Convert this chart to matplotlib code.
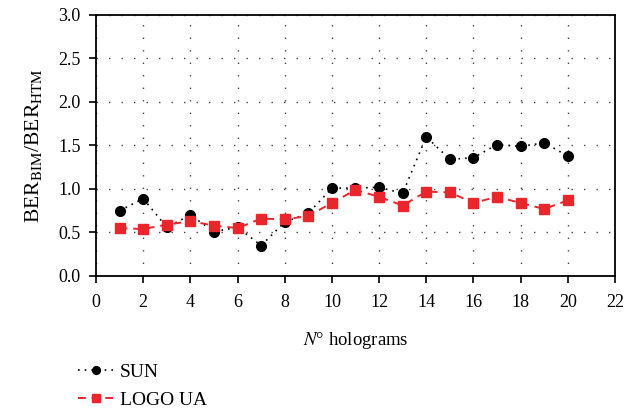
import matplotlib
matplotlib.use("Agg")
import matplotlib.pyplot as plt

plt.rcParams['font.family'] = ['Liberation Serif', 'DejaVu Serif']
plt.rcParams['mathtext.fontset'] = 'stix'

holograms = [1, 2, 3, 4, 5, 6, 7, 8, 9, 10, 11, 12, 13, 14, 15, 16, 17, 18, 19, 20]
sun = [0.75, 0.89, 0.56, 0.70, 0.51, 0.56, 0.35, 0.62, 0.72, 1.01,
       1.01, 1.02, 0.95, 1.60, 1.34, 1.36, 1.51, 1.49, 1.53, 1.38]
logo_ua = [0.55, 0.54, 0.59, 0.63, 0.58, 0.55, 0.66, 0.65, 0.69, 0.84,
           0.99, 0.91, 0.81, 0.97, 0.96, 0.84, 0.91, 0.84, 0.77, 0.87]
xticks = list(range(0, 23, 2))
yticks = [0.0, 0.5, 1.0, 1.5, 2.0, 2.5, 3.0]

fig = plt.figure(figsize=(6.41, 4.12), dpi=100)
ax = fig.add_axes([0.1498, 0.3301, 0.8096, 0.6335])

l1, = ax.plot(holograms, sun, color='black', linestyle=(0, (1, 3)), lw=1.2,
              marker='o', markersize=7, label='SUN', zorder=3)
l2, = ax.plot(holograms, logo_ua, color='#e8262b', linestyle=(0, (4, 3)), lw=1.4,
              marker='s', markersize=7, label='LOGO UA', zorder=3)

ax.set_xlim(0, 22)
ax.set_ylim(0, 3.0)
ax.set_xticks(xticks)
ax.set_yticks(yticks)
ax.set_yticklabels(['%.1f' % v for v in yticks])
ax.grid(True, color='#444444', linestyle=(0, (1, 8)), lw=1.0)
ax.tick_params(labelsize=13, direction='out', length=5, width=1.2, colors='black')
ax.tick_params(axis='x', pad=8)
ax.tick_params(axis='y', pad=6)
for s in ax.spines.values():
    s.set_linewidth(1.3)

ax.set_xlabel('$N$° holograms', fontsize=13.5, labelpad=14)
ax.set_ylabel('BER$_{\\mathrm{BIM}}$/BER$_{\\mathrm{HTM}}$', fontsize=15.5, labelpad=10)

fig.legend(handles=[l1, l2], loc='upper left', bbox_to_anchor=(0.122, 0.118),
           frameon=False, fontsize=14, handlelength=1.8, labelspacing=0.55,
           handletextpad=0.35, markerscale=0.8, borderaxespad=0, borderpad=0)

fig.savefig('out.png', dpi=100)
